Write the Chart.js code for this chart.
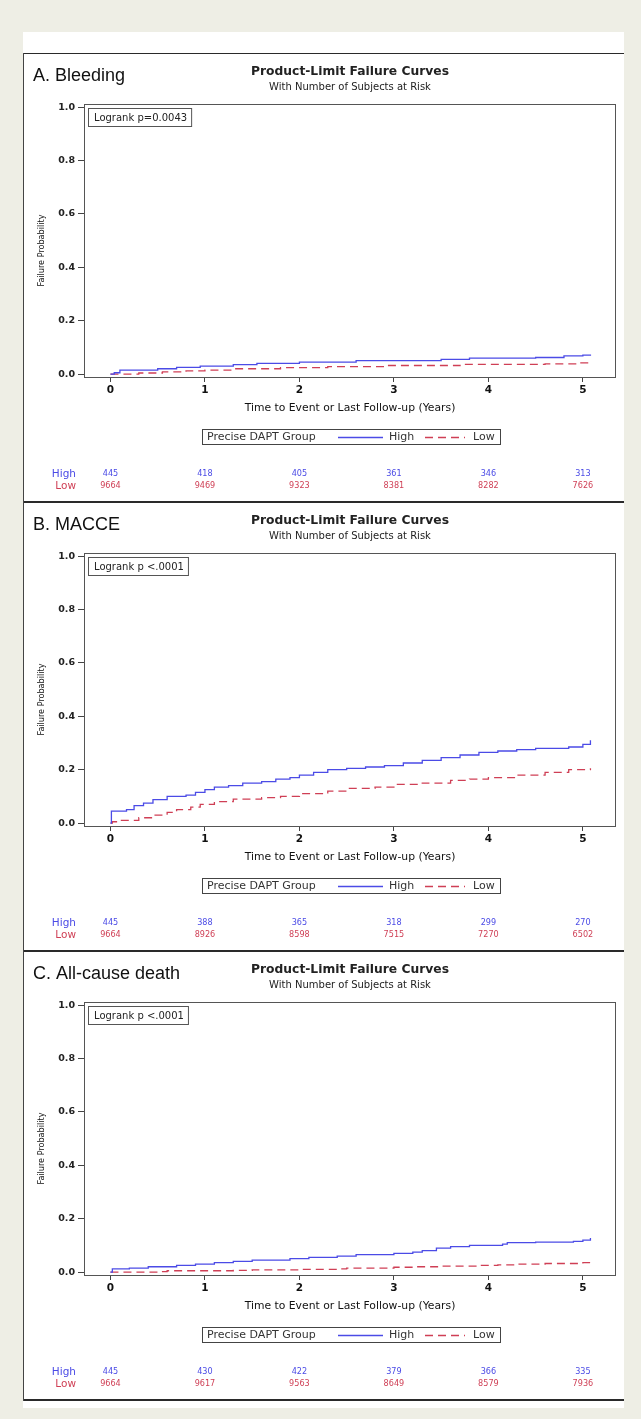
<!DOCTYPE html>
<html>
<head>
<meta charset="utf-8">
<script src="https://cdn.jsdelivr.net/npm/chart.js@4.4.1/dist/chart.umd.min.js"></script>
<style>
  html, body { margin: 0; padding: 0; background: #eeeee5; }
  body { width: 641px; height: 1419px; position: relative; overflow: hidden; }
  #sheet { position: absolute; left: 23px; top: 32px; width: 601px; height: 1376px; background: #ffffff; }
  .panel { position: absolute; left: 23px; width: 601px; height: 449px; }
  .panel canvas { position: absolute; left: 0; top: 0; }
  .hline { position: absolute; left: 23px; width: 601px; background: #2a2a2a; }
  .vline { position: absolute; left: 23px; width: 1px; background: #444; }
</style>
</head>
<body>
<div id="sheet"></div>
<div class="panel" style="top:53px"><canvas id="cA" width="601" height="449"></canvas></div>
<div class="panel" style="top:502px"><canvas id="cB" width="601" height="449"></canvas></div>
<div class="panel" style="top:951px"><canvas id="cC" width="601" height="449"></canvas></div>
<div class="hline" style="top:53px;height:1px"></div>
<div class="hline" style="top:501px;height:2px"></div>
<div class="hline" style="top:950px;height:2px"></div>
<div class="hline" style="top:1399px;height:2px"></div>
<div class="vline" style="top:53px;height:1348px"></div>
<script>
// ---- tick labels / categories ----
const timeTicks = [0, 1, 2, 3, 4, 5];
const probTicks = [0, 0.2, 0.4, 0.6, 0.8, 1.0];
const riskTimes = [0, 1, 2, 3, 4, 5];
const groupNames = ['High', 'Low'];

// ---- A. Bleeding ----
const bleedHighTime = [0, 0.04, 0.1, 0.5, 0.7, 0.95, 1.3, 1.55, 2.0, 2.6, 3.5, 3.8, 4.5, 4.8, 5.0, 5.08];
const bleedHighProb = [0, 0.005, 0.015, 0.02, 0.025, 0.03, 0.035, 0.04, 0.045, 0.05, 0.055, 0.06, 0.062, 0.068, 0.071, 0.073];
const bleedLowTime = [0, 0.3, 0.55, 0.8, 1.0, 1.3, 1.8, 2.3, 2.9, 3.7, 4.6, 4.95, 5.08];
const bleedLowProb = [0, 0.004, 0.008, 0.012, 0.015, 0.02, 0.024, 0.028, 0.032, 0.036, 0.038, 0.042, 0.045];
const bleedRiskHigh = [445, 418, 405, 361, 346, 313];
const bleedRiskLow = [9664, 9469, 9323, 8381, 8282, 7626];

// ---- B. MACCE ----
const macceHighTime = [0, 0.01, 0.17, 0.25, 0.35, 0.45, 0.6, 0.8, 0.9, 1.0, 1.1, 1.25, 1.4, 1.6, 1.75, 1.9, 2.0, 2.15, 2.3, 2.5, 2.7, 2.9, 3.1, 3.3, 3.5, 3.7, 3.9, 4.1, 4.3, 4.5, 4.85, 5.0, 5.08];
const macceHighProb = [0, 0.045, 0.05, 0.065, 0.075, 0.088, 0.1, 0.105, 0.115, 0.125, 0.135, 0.14, 0.15, 0.155, 0.165, 0.17, 0.18, 0.19, 0.2, 0.205, 0.21, 0.215, 0.225, 0.235, 0.245, 0.255, 0.265, 0.27, 0.275, 0.28, 0.285, 0.295, 0.31];
const macceLowTime = [0, 0.02, 0.1, 0.3, 0.45, 0.6, 0.7, 0.85, 0.95, 1.1, 1.3, 1.6, 1.8, 2.0, 2.3, 2.5, 2.8, 3.0, 3.3, 3.6, 3.8, 4.0, 4.3, 4.6, 4.85, 5.08];
const macceLowProb = [0, 0.005, 0.01, 0.02, 0.03, 0.04, 0.05, 0.06, 0.07, 0.08, 0.09, 0.095, 0.1, 0.11, 0.12, 0.13, 0.135, 0.145, 0.15, 0.16, 0.165, 0.17, 0.18, 0.19, 0.2, 0.205];
const macceRiskHigh = [445, 388, 365, 318, 299, 270];
const macceRiskLow = [9664, 8926, 8598, 7515, 7270, 6502];

// ---- C. All-cause death ----
const deathHighTime = [0, 0.02, 0.2, 0.4, 0.7, 0.9, 1.1, 1.3, 1.5, 1.9, 2.1, 2.4, 2.6, 3.0, 3.2, 3.3, 3.45, 3.6, 3.8, 4.15, 4.2, 4.5, 4.9, 5.0, 5.08];
const deathHighProb = [0, 0.012, 0.015, 0.02, 0.025, 0.03, 0.035, 0.04, 0.045, 0.05, 0.055, 0.06, 0.065, 0.07, 0.075, 0.08, 0.09, 0.095, 0.1, 0.105, 0.11, 0.112, 0.115, 0.12, 0.128];
const deathLowTime = [0, 0.5, 0.6, 1.3, 1.5, 2.0, 2.4, 2.5, 3.0, 3.2, 3.5, 3.9, 4.1, 4.3, 4.6, 5.0, 5.08];
const deathLowProb = [0, 0.002, 0.005, 0.006, 0.008, 0.01, 0.012, 0.015, 0.018, 0.02, 0.022, 0.025, 0.027, 0.03, 0.032, 0.035, 0.037];
const deathRiskHigh = [445, 430, 422, 379, 366, 335];
const deathRiskLow = [9664, 9617, 9563, 8649, 8579, 7936];

// ---- texts ----
const mainTitle = 'Product-Limit Failure Curves';
const subTitle = 'With Number of Subjects at Risk';
const xTitle = 'Time to Event or Last Follow-up (Years)';
const yTitle = 'Failure Probability';
const legendTitle = 'Precise DAPT Group';

const HIGH_COLOR = '#4b4be6';
const LOW_COLOR = '#cf3f55';
const FONT = '"DejaVu Sans", "Liberation Sans", sans-serif';
const COND = '"DejaVu Sans Condensed", "Liberation Sans Narrow", "DejaVu Sans", sans-serif';

const decoPlugin = {
  id: 'panelDeco',
  afterDraw(chart, args, o) {
    const ctx = chart.ctx;
    const ca = chart.chartArea;
    const xs = chart.scales.x;
    ctx.save();
    // plot frame
    ctx.strokeStyle = '#555';
    ctx.lineWidth = 1;
    ctx.strokeRect(Math.round(ca.left) + 0.5, Math.round(ca.top) + 0.5,
                   Math.round(ca.right - ca.left), Math.round(ca.bottom - ca.top));
    // panel label
    ctx.fillStyle = '#111';
    ctx.textBaseline = 'alphabetic';
    ctx.textAlign = 'left';
    ctx.font = '18px "Liberation Sans", Arial, sans-serif';
    ctx.fillText(o.label, 10, 28);
    // titles
    const cx = 327;
    ctx.textAlign = 'center';
    ctx.textBaseline = 'middle';
    ctx.fillStyle = '#222';
    ctx.font = 'bold 12.3px ' + FONT;
    ctx.fillText(mainTitle, cx, 19);
    ctx.font = '10px ' + FONT;
    ctx.fillText(subTitle, cx, 34);
    // x title
    ctx.font = '10.8px ' + FONT;
    ctx.fillStyle = '#111';
    ctx.fillText(xTitle, cx, 355);
    // y title
    ctx.save();
    ctx.translate(19, (ca.top + ca.bottom) / 2 + 10);
    ctx.rotate(-Math.PI / 2);
    ctx.font = '9px ' + COND;
    ctx.fillText(yTitle, 0, 0);
    ctx.restore();
    // logrank box
    ctx.font = '10px ' + FONT;
    ctx.textAlign = 'left';
    const lw = ctx.measureText(o.logrank).width;
    ctx.strokeStyle = '#555';
    ctx.strokeRect(ca.left + 4.5, ca.top + 4.5, lw + 10, 18);
    ctx.fillStyle = '#222';
    ctx.fillText(o.logrank, ca.left + 10, ca.top + 14);
    // legend box
    const lx = 179, ly = 376, lwid = 298, lh = 15;
    ctx.strokeStyle = '#444';
    ctx.strokeRect(lx + 0.5, ly + 0.5, lwid, lh);
    ctx.font = '11px ' + FONT;
    ctx.fillStyle = '#333';
    const my = ly + lh / 2 + 1;
    ctx.fillText(legendTitle, lx + 5, my);
    ctx.lineWidth = 1.3;
    ctx.strokeStyle = HIGH_COLOR;
    ctx.beginPath(); ctx.moveTo(315, my); ctx.lineTo(360, my); ctx.stroke();
    ctx.fillText(groupNames[0], 366, my);
    ctx.strokeStyle = LOW_COLOR;
    ctx.setLineDash([8, 5]);
    ctx.beginPath(); ctx.moveTo(402, my); ctx.lineTo(442, my); ctx.stroke();
    ctx.setLineDash([]);
    ctx.fillText(groupNames[1], 450, my);
    // at-risk table
    ctx.textAlign = 'right';
    ctx.font = '10.5px ' + FONT;
    ctx.fillStyle = HIGH_COLOR;
    ctx.fillText(groupNames[0], 53, 421);
    ctx.fillStyle = LOW_COLOR;
    ctx.fillText(groupNames[1], 53, 433);
    ctx.textAlign = 'center';
    ctx.font = '9px ' + COND;
    riskTimes.forEach((t, i) => {
      const px = xs.getPixelForValue(t);
      ctx.fillStyle = HIGH_COLOR;
      ctx.fillText(String(o.riskHigh[i]), px, 421);
      ctx.fillStyle = LOW_COLOR;
      ctx.fillText(String(o.riskLow[i]), px, 433);
    });
    ctx.restore();
  }
};

function pts(ts, ps) { return ts.map((t, i) => ({ x: t, y: ps[i] })); }

function makeChart(id, label, logrank, hT, hP, lT, lP, rH, rL) {
  return new Chart(document.getElementById(id), {
    type: 'line',
    data: {
      datasets: [
        { label: groupNames[0], data: pts(hT, hP), stepped: true, borderColor: HIGH_COLOR,
          borderWidth: 1.3, pointRadius: 0, fill: false },
        { label: groupNames[1], data: pts(lT, lP), stepped: true, borderColor: LOW_COLOR,
          borderWidth: 1.3, borderDash: [8, 5], pointRadius: 0, fill: false }
      ]
    },
    options: {
      responsive: false,
      animation: false,
      devicePixelRatio: 1,
      layout: { padding: { top: 51, right: 9, bottom: 105, left: 0 } },
      plugins: {
        legend: { display: false },
        tooltip: { enabled: false },
        panelDeco: { label, logrank, riskHigh: rH, riskLow: rL }
      },
      scales: {
        x: {
          type: 'linear', min: -0.28, max: 5.34,
          afterBuildTicks: s => { s.ticks = timeTicks.map(v => ({ value: v })); },
          afterFit: s => { s.height = 20; },
          ticks: { callback: v => String(v), color: '#111', padding: 2, maxRotation: 0,
                   font: { family: FONT, size: 10.5, weight: 'bold' } },
          grid: { display: true, drawOnChartArea: false, drawTicks: true, tickLength: 5,
                  color: '#444', tickColor: '#444' },
          border: { display: false }
        },
        y: {
          min: -0.011, max: 1.012,
          afterBuildTicks: s => { s.ticks = probTicks.map(v => ({ value: v })); },
          afterFit: s => { s.width = 61; },
          ticks: { callback: v => Number(v).toFixed(1), color: '#222', padding: 3,
                   font: { family: FONT, size: 9.5, weight: 'bold' } },
          grid: { display: true, drawOnChartArea: false, drawTicks: true, tickLength: 6,
                  color: '#444', tickColor: '#444' },
          border: { display: false }
        }
      }
    },
    plugins: [decoPlugin]
  });
}

makeChart('cA', 'A. Bleeding', 'Logrank p=0.0043', bleedHighTime, bleedHighProb, bleedLowTime, bleedLowProb, bleedRiskHigh, bleedRiskLow);
makeChart('cB', 'B. MACCE', 'Logrank p <.0001', macceHighTime, macceHighProb, macceLowTime, macceLowProb, macceRiskHigh, macceRiskLow);
makeChart('cC', 'C. All-cause death', 'Logrank p <.0001', deathHighTime, deathHighProb, deathLowTime, deathLowProb, deathRiskHigh, deathRiskLow);
</script>
</body>
</html>
